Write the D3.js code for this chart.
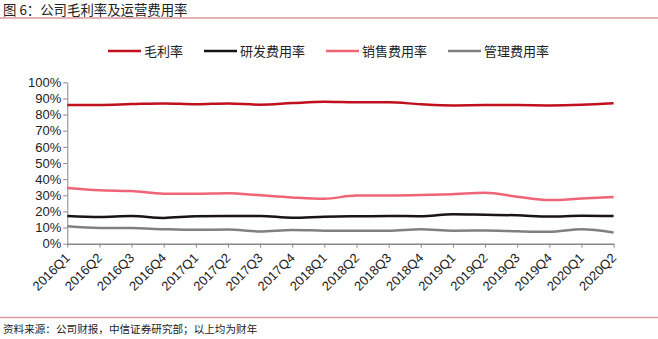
<!DOCTYPE html>
<html><head><meta charset="utf-8">
<script src="https://cdn.jsdelivr.net/npm/d3@7"></script>
<style>
html,body{margin:0;padding:0;background:#fff;}
svg{display:block;font-family:"Liberation Sans",Arial,"Noto Sans CJK SC",sans-serif;}
</style></head>
<body><svg id="c" width="658" height="339"></svg>
<script>
const categories = ["2016Q1","2016Q2","2016Q3","2016Q4","2017Q1","2017Q2","2017Q3","2017Q4","2018Q1","2018Q2","2018Q3","2018Q4","2019Q1","2019Q2","2019Q3","2019Q4","2020Q1","2020Q2"];
const grossMargin = [86.0,86.0,86.5,86.9,86.4,86.9,86.1,87.1,87.9,87.6,87.6,86.4,85.7,85.9,85.9,85.7,86.1,87.1];
const rdRate      = [17.2,16.6,17.1,16.0,17.0,17.1,17.2,16.1,16.7,17.0,17.2,17.0,18.2,17.9,17.6,16.8,17.3,17.1];
const salesRate   = [34.5,33.1,32.6,31.0,31.0,31.3,30.0,28.7,27.9,29.8,29.8,30.1,30.7,31.5,29.1,27.0,28.0,29.0];
const adminRate   = [10.8,9.8,9.7,9.0,8.6,8.8,7.6,8.5,8.1,8.0,8.0,8.9,8.1,8.2,7.7,7.4,8.9,7.0];
const yTicks = [0,10,20,30,40,50,60,70,80,90,100];
const seriesNames = ["毛利率","研发费用率","销售费用率","管理费用率"];
const seriesColors = ["#c0101e","#1a1414","#f06478","#808080"];
const titleText = "图 6：公司毛利率及运营费用率";
const sourceText = "资料来源：公司财报，中信证券研究部；以上均为财年";

const series = [grossMargin, rdRate, salesRate, adminRate];
const svg = d3.select("#c");

// title
svg.append("text").attr("x",3).attr("y",15).attr("font-size",13.4).attr("fill","#222")
  .attr("font-family","'Noto Sans CJK SC',sans-serif").text(titleText);
svg.append("line").attr("x1",0).attr("x2",658).attr("y1",18).attr("y2",18)
  .attr("stroke","#d99a9a").attr("stroke-width",1.5);
svg.append("line").attr("x1",0).attr("x2",658).attr("y1",317.5).attr("y2",317.5)
  .attr("stroke","#d99a9a").attr("stroke-width",1.5);
svg.append("text").attr("x",3).attr("y",333).attr("font-size",10.6).attr("fill","#222")
  .attr("font-family","'Noto Sans CJK SC',sans-serif").text(sourceText);

const x = d3.scalePoint().domain(categories).range([67.3, 613.6]);
const y = d3.scaleLinear().domain([0,100]).range([243.7, 82.3]);

// y axis
const ya = svg.append("g").attr("transform","translate(67.3,0)")
  .call(d3.axisLeft(y).tickValues(yTicks).tickFormat(d=>d+"%").tickSize(4).tickSizeOuter(0));
ya.select(".domain").attr("stroke","#888").attr("stroke-width",1);
ya.selectAll(".tick line").attr("stroke","#888");
ya.selectAll(".tick text").attr("font-size",13).attr("fill","#222").attr("font-family","'Liberation Sans',Arial,sans-serif").attr("x",-6);

// x axis
const xa = svg.append("g").attr("transform","translate(0,243.7)")
  .call(d3.axisBottom(x).tickSize(4).tickSizeOuter(0));
xa.select(".domain").attr("stroke","#888").attr("stroke-width",1.5);
xa.selectAll(".tick line").attr("stroke","#888");
xa.selectAll(".tick text").attr("font-size",13).attr("fill","#222")
  .attr("font-family","'Liberation Sans',Arial,sans-serif")
  .attr("text-anchor","end").attr("dy",0).attr("y",0)
  .attr("transform","translate(3,15) rotate(-45)");

// lines
const line = d3.line().x((d,i)=>x(categories[i])).y(d=>y(d)).curve(d3.curveMonotoneX);
series.forEach((s,k)=>{
  svg.append("path").datum(s).attr("d",line).attr("fill","none")
    .attr("stroke",seriesColors[k]).attr("stroke-width",2.5).attr("stroke-linejoin","round");
});

// legend
const legX = [108,204,326,448];
const leg = svg.append("g");
seriesNames.forEach((n,k)=>{
  leg.append("line").attr("x1",legX[k]).attr("x2",legX[k]+33).attr("y1",51).attr("y2",51)
    .attr("stroke",seriesColors[k]).attr("stroke-width",2.5);
  leg.append("text").attr("x",legX[k]+36).attr("y",56).attr("font-size",13).attr("fill","#222")
    .attr("font-family","'Noto Sans CJK SC',sans-serif").text(n);
});
</script></body></html>
